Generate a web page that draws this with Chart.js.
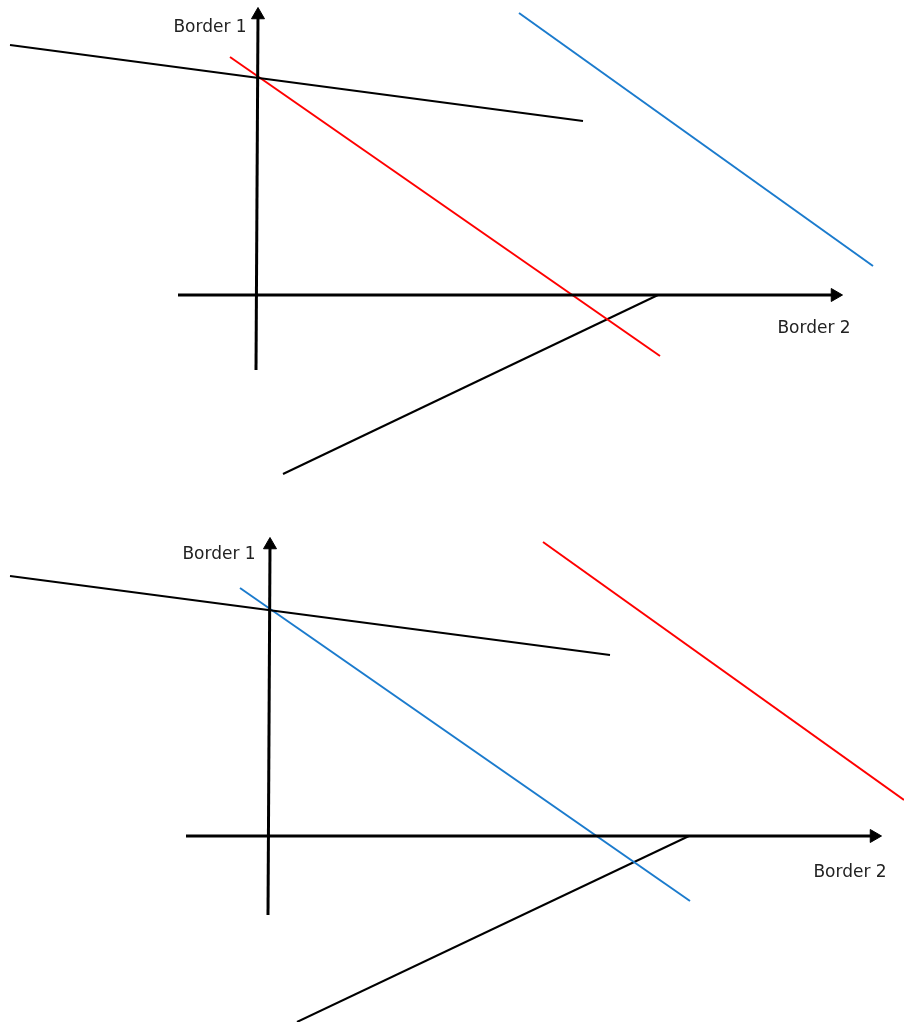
<!DOCTYPE html>
<html>
<head>
<meta charset="utf-8">
<script src="https://cdn.jsdelivr.net/npm/chart.js@4"></script>
<style>
  html, body { margin: 0; padding: 0; background: #fff; }
  .panel { position: absolute; left: 0; width: 904px; height: 511px; }
  #top { top: 0; }
  #bottom { top: 511px; }
</style>
</head>
<body>
<div class="panel" id="top"><canvas id="chartTop"></canvas></div>
<div class="panel" id="bottom"><canvas id="chartBottom"></canvas></div>
<script>
// coordinates relative to the crossing of the two borders
const topBorder1 = [{x: -1, y: -75}, {x: 1, y: 280}];
const topBorder2 = [{x: -79, y: 0}, {x: 578, y: 0}];
const topFlat = [{x: -247, y: 250}, {x: 326, y: 174}];
const topRed = [{x: -27, y: 238}, {x: 403, y: -61}];
const topBlue = [{x: 262, y: 282}, {x: 616, y: 29}];
const topRising = [{x: 26, y: -179}, {x: 401, y: 0}];
const topLabels = [{text: 'Border 1', x: -47, y: 267}, {text: 'Border 2', x: 557, y: -34}];

const botBorder1 = [{x: -1, y: -79}, {x: 1, y: 291}];
const botBorder2 = [{x: -83, y: 0}, {x: 605, y: 0}];
const botFlat = [{x: -259, y: 260}, {x: 341, y: 181}];
const botBlue = [{x: -29, y: 248}, {x: 421, y: -65}];
const botRed = [{x: 274, y: 294}, {x: 635, y: 36}];
const botRising = [{x: 28, y: -186}, {x: 420, y: 0}];
const botLabels = [{text: 'Border 1', x: -50, y: 281}, {text: 'Border 2', x: 581, y: -37}];

const RED = '#ff0000';
const BLUE = '#1b7bcd';

function axisSet(data, rotation) {
  return {
    data: data,
    borderColor: '#000',
    backgroundColor: '#000',
    borderWidth: 3,
    pointRadius: [0, 7.5],
    pointBorderWidth: 1,
    pointStyle: 'triangle',
    rotation: rotation,
    showLine: true
  };
}

function lineSet(data, color) {
  return {
    data: data,
    borderColor: color,
    borderWidth: 2,
    pointRadius: 0,
    showLine: true
  };
}

const labelPlugin = {
  id: 'borderLabels',
  afterDraw(chart) {
    const ctx = chart.ctx;
    const xs = chart.scales.x, ys = chart.scales.y;
    ctx.save();
    ctx.font = '17px "DejaVu Sans", Verdana, sans-serif';
    ctx.fillStyle = '#222';
    ctx.textAlign = 'center';
    ctx.textBaseline = 'middle';
    chart.options.plugins.borderLabels.items.forEach(l => {
      ctx.fillText(l.text, xs.getPixelForValue(l.x), ys.getPixelForValue(l.y));
    });
    ctx.restore();
  }
};

function drawPanel(canvasId, sets, labels, xr, yr) {
  new Chart(document.getElementById(canvasId), {
    type: 'scatter',
    data: { datasets: sets },
    options: {
      responsive: true,
      maintainAspectRatio: false,
      animation: false,
      layout: { padding: 0, autoPadding: false },
      plugins: {
        legend: { display: false },
        tooltip: { enabled: false },
        borderLabels: { items: labels }
      },
      scales: {
        x: { type: 'linear', min: xr[0], max: xr[1], display: false },
        y: { type: 'linear', min: yr[0], max: yr[1], display: false }
      }
    },
    plugins: [labelPlugin]
  });
}

drawPanel('chartTop', [
  axisSet(topBorder1, 0),
  axisSet(topBorder2, 90),
  lineSet(topFlat, '#000'),
  lineSet(topRed, RED),
  lineSet(topBlue, BLUE),
  lineSet(topRising, '#000')
], topLabels, [-257, 647], [-216, 295]);

drawPanel('chartBottom', [
  axisSet(botBorder1, 0),
  axisSet(botBorder2, 90),
  lineSet(botFlat, '#000'),
  lineSet(botBlue, BLUE),
  lineSet(botRed, RED),
  lineSet(botRising, '#000')
], botLabels, [-269, 635], [-186, 325]);
</script>
</body>
</html>
